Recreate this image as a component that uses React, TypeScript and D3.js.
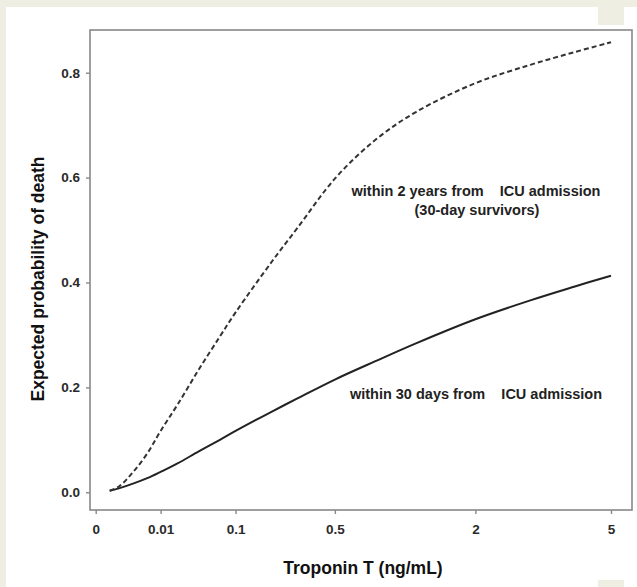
import * as d3 from 'd3';
import { useEffect, useRef } from 'react';

const troponin = [0.0001, 0.0005, 0.002, 0.005, 0.01, 0.02, 0.04, 0.07, 0.1, 0.2, 0.3, 0.5, 0.8, 1.2, 2, 3, 4, 5];
// expected probability of death within 30 days of ICU admission
const death30d = [0.003, 0.008, 0.017, 0.027, 0.039, 0.055, 0.078, 0.1, 0.117, 0.154, 0.179, 0.215, 0.25, 0.284, 0.33, 0.366, 0.392, 0.413];
// expected probability of death within 2 years (30-day survivors)
const death2y = [0.003, 0.012, 0.04, 0.074, 0.117, 0.167, 0.234, 0.297, 0.343, 0.44, 0.504, 0.598, 0.672, 0.725, 0.78, 0.815, 0.839, 0.858];

const xTickValues = [0, 0.01, 0.1, 0.5, 2, 5];
const xTickLabels = ['0', '0.01', '0.1', '0.5', '2', '5'];
const yTickValues = [0, 0.2, 0.4, 0.6, 0.8];

const FONT = '"Liberation Sans", Arial, Helvetica, sans-serif';
const BEIGE = '#eeeee2';

const W = 637;
const H = 587;

export default function App() {
  const svgRef = useRef<SVGSVGElement | null>(null);

  useEffect(() => {
    if (!svgRef.current) return;
    const svg = d3.select(svgRef.current);
    svg.selectAll('*').remove();

    // ── page background ───────────────────────────────────────────
    svg.append('rect').attr('width', W).attr('height', H).attr('fill', BEIGE);
    svg.append('rect').attr('x', 6).attr('y', 7).attr('width', W - 6).attr('height', H - 7).attr('fill', '#fff');
    svg.append('rect').attr('x', 598).attr('y', 7).attr('width', 26).attr('height', 18).attr('fill', BEIGE);
    svg.append('rect').attr('x', 598).attr('y', 580).attr('width', 26).attr('height', 7).attr('fill', BEIGE);

    // ── scales (cube-root x axis) ──────────────────────────────────
    const x = d3.scalePow().exponent(1 / 3).domain([0, 5]).range([95.7, 611]);
    const y = d3.scaleLinear().domain([0, 0.8]).range([492.3, 72.7]);

    const box = { left: 90, right: 632, top: 30, bottom: 510 };

    svg
      .append('rect')
      .attr('x', box.left)
      .attr('y', box.top)
      .attr('width', box.right - box.left)
      .attr('height', box.bottom - box.top)
      .attr('fill', 'none')
      .attr('stroke', '#888')
      .attr('stroke-width', 1.6);

    // ── axes ──────────────────────────────────────────────────────
    const xAxis = d3
      .axisBottom(x)
      .tickValues(xTickValues)
      .tickFormat((_, i) => xTickLabels[i])
      .tickSize(4)
      .tickPadding(10)
      .tickSizeOuter(0);

    const gx = svg.append('g').attr('transform', `translate(0,${box.bottom})`).call(xAxis);
    gx.select('.domain').remove();

    const yAxis = d3
      .axisLeft(y)
      .tickValues(yTickValues)
      .tickFormat(d3.format('.1f'))
      .tickSize(4)
      .tickPadding(6)
      .tickSizeOuter(0);

    const gy = svg.append('g').attr('transform', `translate(${box.left},0)`).call(yAxis);
    gy.select('.domain').remove();

    [gx, gy].forEach(g => {
      g.selectAll('line').attr('stroke', '#888').attr('stroke-width', 1.4);
      g.selectAll('text')
        .attr('fill', '#2a2a2a')
        .style('font-family', FONT)
        .style('font-weight', 'bold')
        .style('font-size', '13.5px');
    });

    // ── curves ────────────────────────────────────────────────────
    const line = d3
      .line<number>()
      .x((_, i) => x(troponin[i]))
      .y(d => y(d))
      .curve(d3.curveCatmullRom);

    svg
      .append('path')
      .datum(death30d)
      .attr('fill', 'none')
      .attr('stroke', '#222')
      .attr('stroke-width', 2)
      .attr('d', line);

    svg
      .append('path')
      .datum(death2y)
      .attr('fill', 'none')
      .attr('stroke', '#333')
      .attr('stroke-width', 2)
      .attr('stroke-dasharray', '5 3')
      .attr('d', line);

    // ── annotations ───────────────────────────────────────────────
    const note = (tx: number, ty: number, label: string) =>
      svg
        .append('text')
        .attr('x', tx)
        .attr('y', ty)
        .attr('text-anchor', 'middle')
        .attr('fill', '#222')
        .style('white-space', 'pre')
        .style('font-family', FONT)
        .style('font-weight', 'bold')
        .style('font-size', '14.5px')
        .text(label);

    note(476, 196, 'within 2 years from    ICU admission');
    note(477, 215, '(30-day survivors)');
    note(476, 399, 'within 30 days from    ICU admission');

    // ── axis titles ───────────────────────────────────────────────
    svg
      .append('text')
      .attr('x', 363)
      .attr('y', 574)
      .attr('text-anchor', 'middle')
      .attr('fill', '#111')
      .style('font-family', FONT)
      .style('font-weight', 'bold')
      .style('font-size', '17.5px')
      .text('Troponin T (ng/mL)');

    svg
      .append('text')
      .attr('transform', `translate(44,279) rotate(-90)`)
      .attr('text-anchor', 'middle')
      .attr('fill', '#111')
      .style('font-family', FONT)
      .style('font-weight', 'bold')
      .style('font-size', '17.5px')
      .text('Expected probability of death');
  }, []);

  return <svg ref={svgRef} width={W} height={H} style={{ position: 'absolute', left: 0, top: 0 }} />;
}
